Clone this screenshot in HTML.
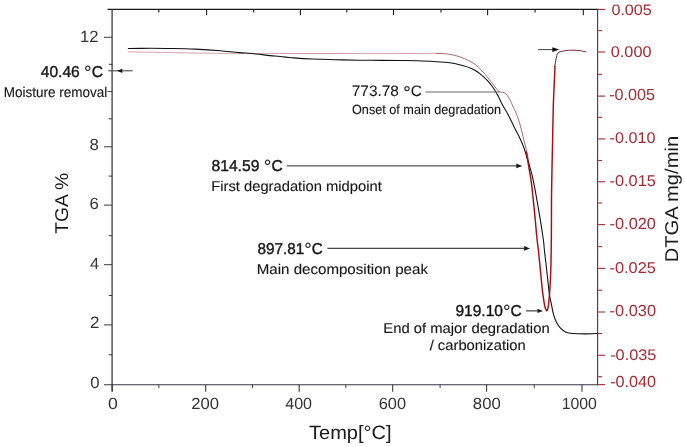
<!DOCTYPE html>
<html><head><meta charset="utf-8"><title>TGA / DTGA</title>
<style>html,body{margin:0;padding:0;background:#fff}svg{display:block}text{font-family:"Liberation Sans",sans-serif;text-rendering:geometricPrecision}</style>
</head><body>
<svg width="685" height="447" viewBox="0 0 685 447">
<rect width="685" height="447" fill="#fff"/>
<line x1="107.5" y1="9.4" x2="598.4" y2="9.4" stroke="#1a1a1a" stroke-width="1.1"/>
<line x1="112.1" y1="9.4" x2="112.1" y2="391.6" stroke="#34343c" stroke-width="1.25"/>
<line x1="104" y1="384.7" x2="598.4" y2="384.7" stroke="#34343c" stroke-width="1.1"/>
<line x1="597.6" y1="9.4" x2="597.6" y2="385.2" stroke="#7a2029" stroke-width="1.1"/>
<line x1="104" y1="37.3" x2="112.2" y2="37.3" stroke="#3a3a40" stroke-width="1"/>
<line x1="104" y1="146.8" x2="112.2" y2="146.8" stroke="#3a3a40" stroke-width="1"/>
<line x1="104" y1="205.1" x2="112.2" y2="205.1" stroke="#3a3a40" stroke-width="1"/>
<line x1="104" y1="264.7" x2="112.2" y2="264.7" stroke="#3a3a40" stroke-width="1"/>
<line x1="104" y1="324.9" x2="112.2" y2="324.9" stroke="#3a3a40" stroke-width="1"/>
<line x1="107.5" y1="91.5" x2="112.2" y2="91.5" stroke="#34343c" stroke-width="0.9"/>
<line x1="108.8" y1="64.3" x2="112.2" y2="64.3" stroke="#2a2a30" stroke-width="0.95"/>
<line x1="108.8" y1="118.8" x2="112.2" y2="118.8" stroke="#2a2a30" stroke-width="0.95"/>
<line x1="108.8" y1="176.1" x2="112.2" y2="176.1" stroke="#2a2a30" stroke-width="0.95"/>
<line x1="108.8" y1="235.7" x2="112.2" y2="235.7" stroke="#2a2a30" stroke-width="0.95"/>
<line x1="108.8" y1="295.5" x2="112.2" y2="295.5" stroke="#2a2a30" stroke-width="0.95"/>
<line x1="108.8" y1="354.8" x2="112.2" y2="354.8" stroke="#2a2a30" stroke-width="0.95"/>
<line x1="112.2" y1="384.7" x2="112.2" y2="391.8" stroke="#333338" stroke-width="1.05"/>
<line x1="205.7" y1="384.7" x2="205.7" y2="391.8" stroke="#333338" stroke-width="1.05"/>
<line x1="299.2" y1="384.7" x2="299.2" y2="391.8" stroke="#333338" stroke-width="1.05"/>
<line x1="392.7" y1="384.7" x2="392.7" y2="391.8" stroke="#333338" stroke-width="1.05"/>
<line x1="486.6" y1="384.7" x2="486.6" y2="391.8" stroke="#333338" stroke-width="1.05"/>
<line x1="582" y1="384.7" x2="582" y2="391.8" stroke="#333338" stroke-width="1.05"/>
<line x1="158.8" y1="384.7" x2="158.8" y2="388" stroke="#3a3a3e" stroke-width="0.95"/>
<line x1="252.5" y1="384.7" x2="252.5" y2="388" stroke="#3a3a3e" stroke-width="0.95"/>
<line x1="345.8" y1="384.7" x2="345.8" y2="388" stroke="#3a3a3e" stroke-width="0.95"/>
<line x1="440.1" y1="384.7" x2="440.1" y2="388" stroke="#3a3a3e" stroke-width="0.95"/>
<line x1="534.3" y1="384.7" x2="534.3" y2="388" stroke="#3a3a3e" stroke-width="0.95"/>
<line x1="206.6" y1="9.4" x2="206.6" y2="15.2" stroke="#1a1a1a" stroke-width="1.1"/>
<line x1="300.4" y1="9.4" x2="300.4" y2="15.2" stroke="#1a1a1a" stroke-width="1.1"/>
<line x1="393.5" y1="9.4" x2="393.5" y2="15.2" stroke="#1a1a1a" stroke-width="1.1"/>
<line x1="487.6" y1="9.4" x2="487.6" y2="15.2" stroke="#1a1a1a" stroke-width="1.1"/>
<line x1="583.3" y1="9.4" x2="583.3" y2="15.2" stroke="#1a1a1a" stroke-width="1.1"/>
<line x1="158.8" y1="9.4" x2="158.8" y2="12.5" stroke="#1a1a1a" stroke-width="1.1"/>
<line x1="253.7" y1="9.4" x2="253.7" y2="12.5" stroke="#1a1a1a" stroke-width="1.1"/>
<line x1="346.8" y1="9.4" x2="346.8" y2="12.5" stroke="#1a1a1a" stroke-width="1.1"/>
<line x1="441" y1="9.4" x2="441" y2="12.5" stroke="#1a1a1a" stroke-width="1.1"/>
<line x1="535.1" y1="9.4" x2="535.1" y2="12.5" stroke="#1a1a1a" stroke-width="1.1"/>
<line x1="598.2" y1="9.4" x2="605.2" y2="9.4" stroke="#a52a35" stroke-width="1.1"/>
<line x1="598.2" y1="52" x2="605.2" y2="52" stroke="#a52a35" stroke-width="1.1"/>
<line x1="598.2" y1="96.1" x2="605.2" y2="96.1" stroke="#a52a35" stroke-width="1.1"/>
<line x1="598.2" y1="138.9" x2="605.2" y2="138.9" stroke="#a52a35" stroke-width="1.1"/>
<line x1="598.2" y1="181.7" x2="605.2" y2="181.7" stroke="#a52a35" stroke-width="1.1"/>
<line x1="598.2" y1="224.6" x2="605.2" y2="224.6" stroke="#a52a35" stroke-width="1.1"/>
<line x1="598.2" y1="268.4" x2="605.2" y2="268.4" stroke="#a52a35" stroke-width="1.1"/>
<line x1="598.2" y1="312.0" x2="605.2" y2="312.0" stroke="#a52a35" stroke-width="1.1"/>
<line x1="598.2" y1="355.3" x2="605.2" y2="355.3" stroke="#a52a35" stroke-width="1.1"/>
<line x1="598.2" y1="384.6" x2="605.2" y2="384.6" stroke="#a52a35" stroke-width="1.1"/>
<line x1="598.2" y1="30.6" x2="602" y2="30.6" stroke="#a52a35" stroke-width="1.1"/>
<line x1="598.2" y1="74.4" x2="602" y2="74.4" stroke="#a52a35" stroke-width="1.1"/>
<line x1="598.2" y1="117.4" x2="602" y2="117.4" stroke="#a52a35" stroke-width="1.1"/>
<line x1="598.2" y1="160.5" x2="602" y2="160.5" stroke="#a52a35" stroke-width="1.1"/>
<line x1="598.2" y1="203" x2="602" y2="203" stroke="#a52a35" stroke-width="1.1"/>
<line x1="598.2" y1="246.6" x2="602" y2="246.6" stroke="#a52a35" stroke-width="1.1"/>
<line x1="598.2" y1="290.2" x2="602" y2="290.2" stroke="#a52a35" stroke-width="1.1"/>
<line x1="598.2" y1="333.5" x2="602" y2="333.5" stroke="#a52a35" stroke-width="1.1"/>
<line x1="598.2" y1="376.7" x2="602" y2="376.7" stroke="#a52a35" stroke-width="1.1"/>
<path d="M128.3,51.8 C131.9,51.9 143.1,52.1 150.0,52.2 C156.9,52.3 160.4,52.4 170.0,52.6 C179.6,52.8 197.2,53.1 207.7,53.2 C218.2,53.3 224.1,53.4 232.8,53.4 C241.5,53.4 248.8,53.5 260.0,53.5 C271.2,53.5 286.7,53.5 300.0,53.5 C313.3,53.5 326.7,53.5 340.0,53.5 C353.3,53.5 368.3,53.6 380.0,53.6 C391.7,53.6 400.6,53.5 410.0,53.5 C419.4,53.5 432.1,53.4 436.5,53.4" fill="none" stroke="#b4686f" stroke-width="0.6" stroke-linecap="round" stroke-linejoin="round"/>
<path d="M436.5,53.4 C437.8,53.5 441.8,53.5 444.0,53.7 C446.2,53.9 447.3,53.9 450.0,54.4 C452.7,54.9 456.9,55.8 460.0,56.9 C463.1,58.0 466.3,59.5 468.8,60.7 C471.3,62.0 473.0,62.8 475.1,64.4 C477.2,66.0 479.3,67.9 481.4,70.1 C483.5,72.3 485.8,75.3 487.7,77.6 C489.6,79.9 491.1,81.9 492.7,83.9 C494.3,85.9 496.0,88.2 497.1,89.5 C498.2,90.8 498.7,91.3 499.6,91.8 C500.5,92.3 501.6,92.1 502.7,92.4 C503.8,92.7 504.9,92.9 505.9,93.7 C506.8,94.5 507.6,95.8 508.4,97.1 C509.2,98.4 510.2,100.0 510.9,101.5 C511.6,103.0 511.9,104.0 512.8,106.0 C513.7,108.0 515.2,110.6 516.4,113.8 C517.6,117.0 519.1,121.1 520.2,125.1 C521.4,129.1 522.4,133.9 523.3,137.7 C524.2,141.5 525.1,144.6 525.8,147.7 C526.5,150.8 527.2,153.3 527.7,156.0 C528.2,158.7 528.8,162.7 529.0,164.0" fill="none" stroke="#8e3a44" stroke-width="0.75" stroke-linecap="round" stroke-linejoin="round"/>
<path d="M128.3,48.5 C131.9,48.5 143.1,48.3 150.0,48.3 C156.9,48.3 162.5,48.4 170.0,48.5 C177.5,48.6 186.7,48.7 195.1,49.1 C203.5,49.5 212.9,50.1 220.2,50.7 C227.5,51.3 233.1,52.1 239.1,52.6 C245.1,53.1 250.1,53.4 256.0,54.0 C261.9,54.6 268.5,55.4 274.8,56.0 C281.1,56.6 287.4,57.4 293.7,57.9 C300.0,58.4 304.4,58.7 312.5,59.0 C320.6,59.3 332.2,59.7 342.0,59.9 C351.8,60.1 361.3,60.2 371.0,60.3 C380.7,60.4 392.2,60.4 400.0,60.5 C407.8,60.6 411.6,60.6 417.7,60.8 C423.8,61.0 431.1,61.4 436.5,61.7 C441.9,62.0 445.6,62.2 450.0,62.8 C454.4,63.4 458.8,64.5 462.6,65.5 C466.4,66.5 469.7,67.7 472.6,69.1 C475.5,70.5 477.6,72.0 480.1,73.9 C482.6,75.9 485.6,78.6 487.7,80.8 C489.8,83.0 491.0,84.6 492.7,87.0 C494.4,89.4 496.0,92.2 497.7,95.2 C499.4,98.2 501.0,102.1 502.7,105.2 C504.4,108.3 505.7,110.3 507.6,113.8 C509.5,117.3 511.8,122.2 513.9,126.4 C516.0,130.6 518.5,135.4 520.2,138.9 C521.9,142.4 522.9,144.8 523.9,147.7 C524.9,150.5 525.8,153.6 526.5,156.0 C527.2,158.4 527.3,158.6 528.3,162.0 C529.3,165.4 531.0,170.5 532.3,176.2 C533.6,181.9 534.9,188.9 536.3,196.3 C537.6,203.7 539.2,213.1 540.4,220.4 C541.6,227.7 542.7,235.1 543.4,240.0 C544.1,244.9 543.7,244.0 544.4,250.1 C545.1,256.1 546.6,268.9 547.4,276.3 C548.2,283.7 548.7,289.8 549.4,294.4 C550.1,299.0 550.7,300.8 551.4,304.1 C552.1,307.4 552.5,311.1 553.4,314.1 C554.2,317.1 555.3,319.9 556.5,322.2 C557.7,324.5 559.0,326.6 560.5,328.2 C562.0,329.8 563.5,331.0 565.5,331.9 C567.5,332.8 569.4,333.2 572.6,333.5 C575.8,333.8 580.4,333.9 584.6,333.9 C588.8,333.9 595.5,333.5 597.7,333.4" fill="none" stroke="#111" stroke-width="1.08" stroke-linecap="round" stroke-linejoin="round"/>
<path d="M526.3,152.0 C526.6,154.0 527.5,159.0 528.3,164.0 C529.1,169.0 530.5,176.1 531.3,182.2 C532.1,188.2 532.6,193.9 533.3,200.3 C534.0,206.7 534.7,213.8 535.3,220.4 C535.9,227.0 536.6,235.1 537.1,240.0 C537.6,244.9 537.9,245.1 538.4,250.1 C538.9,255.1 539.7,263.5 540.4,270.2 C541.1,276.9 541.7,284.7 542.4,290.4 C543.1,296.1 543.9,301.3 544.4,304.4 C544.9,307.5 545.2,307.9 545.6,309.0 C546.0,310.1 546.4,311.0 546.8,310.9 C547.2,310.8 547.5,309.6 547.8,308.5 C548.1,307.4 548.3,307.4 548.6,304.4 C548.9,301.4 549.4,296.1 549.8,290.4 C550.2,284.7 550.6,276.9 550.8,270.2 C551.0,263.5 551.1,256.8 551.2,250.1 C551.3,243.4 551.3,240.0 551.4,230.0 C551.5,220.0 551.4,203.3 551.6,190.0 C551.8,176.7 552.1,163.3 552.4,150.0 C552.7,136.7 552.9,121.7 553.2,110.0 C553.5,98.3 554.1,87.2 554.4,80.0 C554.7,72.8 554.9,68.8 555.0,66.5" fill="none" stroke="#a80c14" stroke-width="1.45" stroke-linecap="round" stroke-linejoin="round"/>
<path d="M554.7,66.5 C554.9,65.6 555.4,62.5 555.7,60.9 C556.0,59.3 556.3,57.9 556.6,56.8 C556.9,55.7 556.9,55.0 557.3,54.2 C557.7,53.5 558.5,52.6 558.8,52.3" fill="none" stroke="#1a1214" stroke-width="0.9" stroke-linecap="round" stroke-linejoin="round"/>
<path d="M558.8,52.3 C559.3,52.1 560.7,51.6 561.9,51.3 C563.1,51.0 564.5,50.8 566.0,50.6 C567.5,50.4 569.5,50.2 571.2,50.2 C572.9,50.2 574.6,50.2 576.3,50.3 C578.0,50.4 579.9,50.6 581.5,50.9 C583.1,51.2 585.1,51.7 585.8,51.9" fill="none" stroke="#7a1c28" stroke-width="0.95" stroke-linecap="round" stroke-linejoin="round"/>
<line x1="108.3" y1="70.8" x2="132.7" y2="70.8" stroke="#4a4a4a" stroke-width="1.1"/>
<polygon points="117.1,70.8 122.3,68.7 122.3,72.9" fill="#111"/>
<line x1="425.4" y1="92.0" x2="499.8" y2="92.0" stroke="#666" stroke-width="1"/>
<line x1="286.7" y1="165.9" x2="517.3" y2="165.9" stroke="#555" stroke-width="1.2"/>
<polygon points="522.3,165.9 516.3,163.5 516.3,168.3" fill="#1a1a1a"/>
<line x1="327.4" y1="248.4" x2="525.1" y2="248.4" stroke="#444" stroke-width="1.1"/>
<polygon points="530.1,248.4 524.1,246.0 524.1,250.8" fill="#1a1a1a"/>
<line x1="525.9" y1="310.9" x2="538.5" y2="310.9" stroke="#1a1a1a" stroke-width="1"/>
<polygon points="543,310.9 537.5,308.7 537.5,313.09999999999997" fill="#1a1a1a"/>
<line x1="538.1" y1="49.6" x2="553.3" y2="49.6" stroke="#2a2a2a" stroke-width="0.9"/>
<polygon points="559.3,49.6 552.3,47.300000000000004 552.3,51.9" fill="#111"/>
<text id="t0" transform="translate(80.05,42.15) scale(1.0253,1)" font-size="16.19" fill="#333">12</text>
<text id="t1" transform="translate(89.57,150.46) scale(1.0520,1)" font-size="16.03" fill="#333">8</text>
<text id="t2" transform="translate(89.57,209.36) scale(1.0332,1)" font-size="16.24" fill="#333">6</text>
<text id="t3" transform="translate(89.90,268.65) scale(1.0327,1)" font-size="15.91" fill="#333">4</text>
<text id="t4" transform="translate(89.95,328.15) scale(1.0329,1)" font-size="16.47" fill="#333">2</text>
<text id="t5" transform="translate(90.24,387.96) scale(1.0270,1)" font-size="16.24" fill="#333">0</text>
<text id="t6" transform="translate(108.08,408.87) scale(1.0940,1)" font-size="16.18" fill="#333">0</text>
<text id="t7" transform="translate(191.21,408.87) scale(1.0312,1)" font-size="16.18" fill="#333">200</text>
<text id="t8" transform="translate(285.24,408.87) scale(0.9925,1)" font-size="16.18" fill="#333">400</text>
<text id="t9" transform="translate(378.75,408.87) scale(1.0127,1)" font-size="16.18" fill="#333">600</text>
<text id="t10" transform="translate(472.87,408.87) scale(1.0327,1)" font-size="16.18" fill="#333">800</text>
<text id="t11" transform="translate(561.68,408.87) scale(0.9798,1)" font-size="16.18" fill="#333">1000</text>
<text id="t12" transform="translate(611.38,14.62) scale(1.0653,1)" font-size="15.19" fill="#a52a35">0.005</text>
<text id="t13" transform="translate(610.87,56.98) scale(1.0467,1)" font-size="15.47" fill="#a52a35">0.000</text>
<text id="t14" transform="translate(609.18,100.37) scale(0.9994,1)" font-size="16.18" fill="#a52a35">-0.005</text>
<text id="t15" transform="translate(609.58,143.02) scale(1.0458,1)" font-size="15.47" fill="#a52a35">-0.010</text>
<text id="t16" transform="translate(609.58,185.79) scale(1.0443,1)" font-size="15.62" fill="#a52a35">-0.015</text>
<text id="t17" transform="translate(609.58,228.86) scale(1.0207,1)" font-size="16.03" fill="#a52a35">-0.020</text>
<text id="t18" transform="translate(609.58,272.58) scale(1.0453,1)" font-size="15.62" fill="#a52a35">-0.025</text>
<text id="t19" transform="translate(609.58,316.46) scale(1.0217,1)" font-size="16.03" fill="#a52a35">-0.030</text>
<text id="t20" transform="translate(610.18,359.58) scale(1.0641,1)" font-size="15.33" fill="#a52a35">-0.035</text>
<text id="t21" transform="translate(610.18,387.48) scale(1.0052,1)" font-size="16.12" fill="#a52a35">-0.040</text>
<text id="t22" transform="translate(308.99,438.50) scale(1.0439,1)" font-size="19.20" fill="#1a1a1a">Temp[°C]</text>
<text id="t23" transform="translate(68.40,233.86) rotate(-90) scale(1.0408,1)" font-size="18.50" fill="#1a1a1a">TGA %</text>
<text id="t24" transform="translate(677.70,262.34) rotate(-90) scale(1.0885,1)" font-size="18.50" fill="#1a1a1a">DTGA mg/min</text>
<text id="t25" transform="translate(40.75,76.60) scale(0.9930,1)" font-size="15.70" fill="#161616" stroke="#161616" stroke-width="0.4">40.46 <tspan font-size="1.22em" stroke-width="0.1" dy="0.14em">°</tspan><tspan dy="-0.17em">C</tspan></text>
<text id="t26" transform="translate(3.68,96.70) scale(0.9515,1)" font-size="14.20" fill="#161616" stroke="#161616" stroke-width="0.12">Moisture removal</text>
<text id="t27" transform="translate(351.75,96.40) scale(1.0224,1)" font-size="15.10" fill="#161616" stroke="#161616" stroke-width="0.05">773.78 <tspan font-size="1.22em" stroke-width="0.1" dy="0.14em">°</tspan><tspan dy="-0.17em">C</tspan></text>
<text id="t28" transform="translate(352.00,113.80) scale(0.9450,1)" font-size="13.40" fill="#161616" stroke="#161616" stroke-width="0.12">Onset of main degradation</text>
<text id="t29" transform="translate(211.50,170.70) scale(0.9981,1)" font-size="15.70" fill="#161616" stroke="#161616" stroke-width="0.4">814.59 <tspan font-size="1.22em" stroke-width="0.1" dy="0.14em">°</tspan><tspan dy="-0.17em">C</tspan></text>
<text id="t30" transform="translate(211.19,191.00) scale(1.0399,1)" font-size="14.20" fill="#161616" stroke="#161616" stroke-width="0.12">First degradation midpoint</text>
<text id="t31" transform="translate(257.50,253.60) scale(0.9739,1)" font-size="15.70" fill="#161616" stroke="#161616" stroke-width="0.4">897.81<tspan font-size="1.22em" stroke-width="0.1" dy="0.14em">°</tspan><tspan dy="-0.17em">C</tspan></text>
<text id="t32" transform="translate(256.74,273.50) scale(1.0641,1)" font-size="14.20" fill="#161616" stroke="#161616" stroke-width="0.12">Main decomposition peak</text>
<text id="t33" transform="translate(455.50,315.80) scale(0.9884,1)" font-size="15.70" fill="#161616" stroke="#161616" stroke-width="0.4">919.10<tspan font-size="1.22em" stroke-width="0.1" dy="0.14em">°</tspan><tspan dy="-0.17em">C</tspan></text>
<text id="t34" transform="translate(383.34,333.00) scale(1.0437,1)" font-size="14.20" fill="#161616" stroke="#161616" stroke-width="0.12">End of major degradation</text>
<text id="t35" transform="translate(429.65,349.60) scale(1.0413,1)" font-size="14.20" fill="#161616" stroke="#161616" stroke-width="0.12">/ carbonization</text>
</svg>
</body></html>
